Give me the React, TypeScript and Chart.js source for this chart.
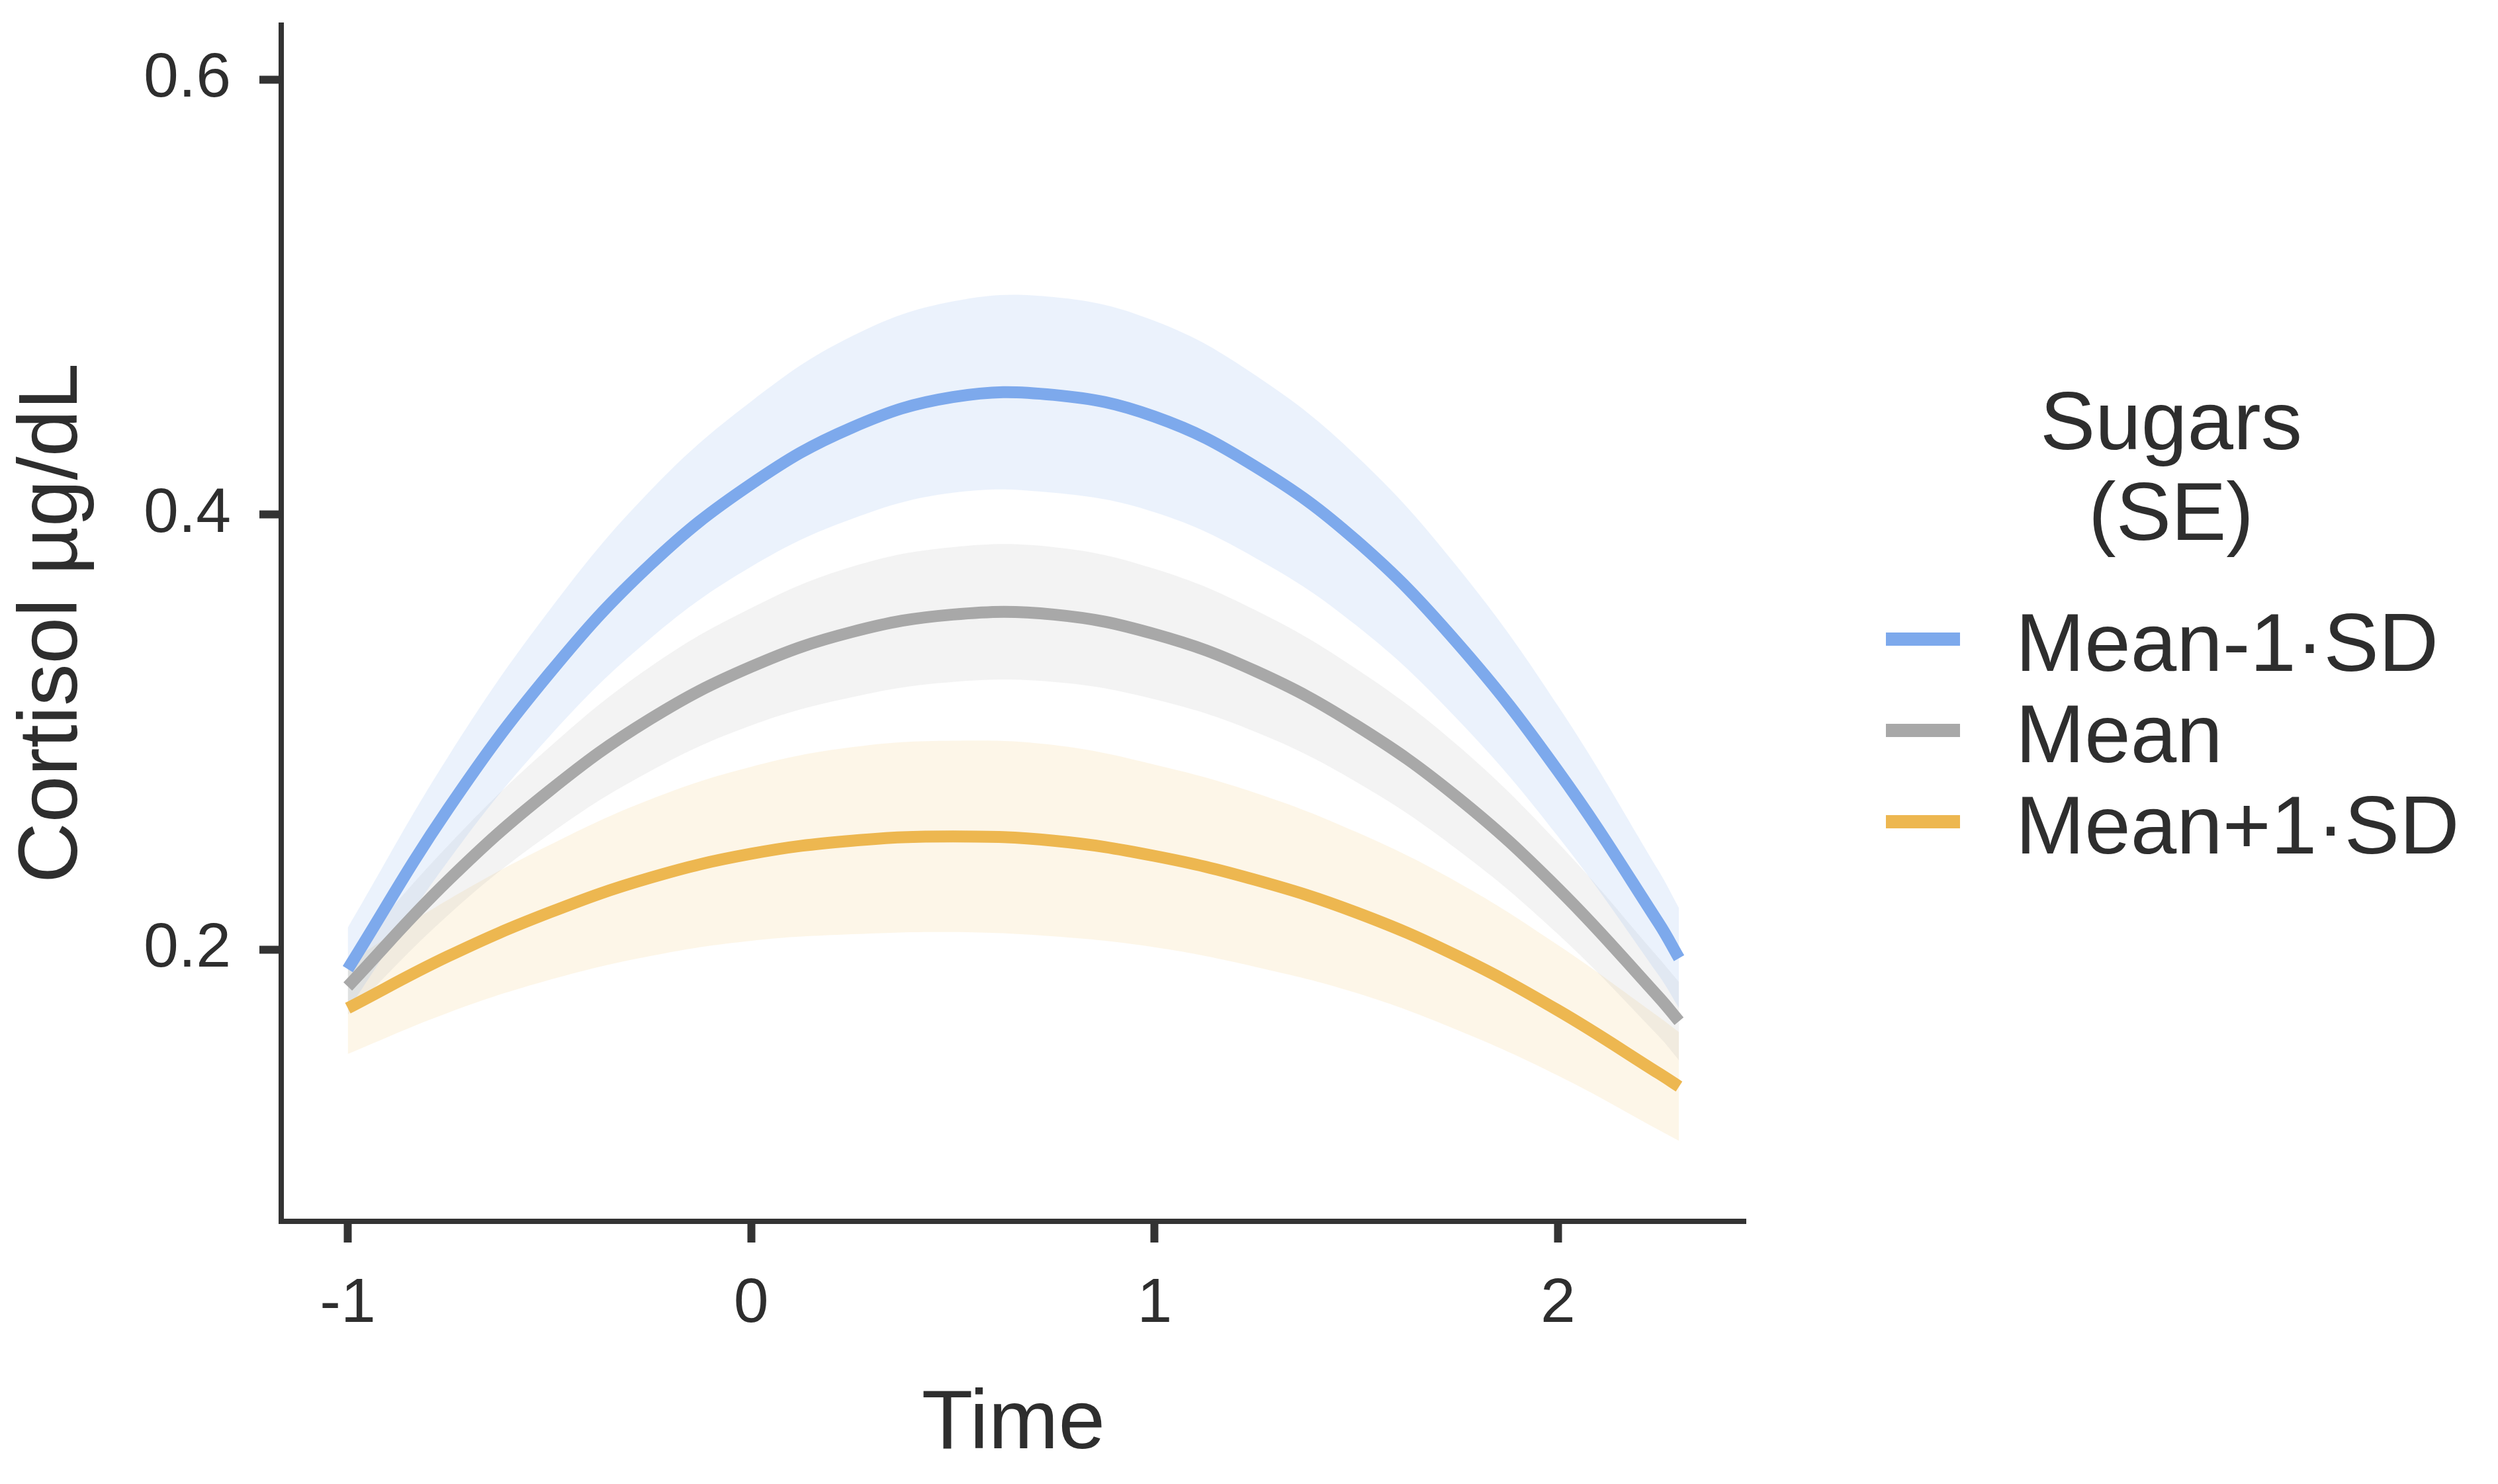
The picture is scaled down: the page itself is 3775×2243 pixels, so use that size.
import React, { useEffect, useRef } from "react";
import { Chart, registerables } from "chart.js";

Chart.register(...registerables);

// ---------- data ----------
const TIME = [-1, -0.75, -0.5, -0.25, 0, 0.25, 0.5, 0.75, 1, 1.25, 1.5, 1.75, 2, 2.25, 2.3];

const MINUS_SD_FIT = [0.191, 0.265, 0.327, 0.377, 0.414, 0.44, 0.454, 0.455, 0.445, 0.422, 0.388, 0.341, 0.282, 0.212, 0.196];
const MINUS_SD_LOW = [0.172, 0.241, 0.298, 0.343, 0.376, 0.398, 0.41, 0.41, 0.401, 0.38, 0.349, 0.306, 0.252, 0.188, 0.173];
const MINUS_SD_HIGH = [0.21, 0.289, 0.356, 0.411, 0.452, 0.482, 0.498, 0.5, 0.489, 0.464, 0.427, 0.376, 0.312, 0.236, 0.219];

const MEAN_FIT = [0.183, 0.232, 0.273, 0.306, 0.33, 0.346, 0.354, 0.354, 0.345, 0.328, 0.303, 0.27, 0.228, 0.178, 0.167];
const MEAN_LOW = [0.17, 0.216, 0.253, 0.282, 0.303, 0.316, 0.323, 0.323, 0.315, 0.3, 0.277, 0.246, 0.207, 0.16, 0.149];
const MEAN_HIGH = [0.196, 0.248, 0.293, 0.33, 0.357, 0.376, 0.385, 0.385, 0.375, 0.356, 0.329, 0.294, 0.249, 0.196, 0.185];

const PLUS_SD_FIT = [0.173, 0.197, 0.217, 0.233, 0.244, 0.25, 0.252, 0.25, 0.243, 0.232, 0.217, 0.197, 0.172, 0.143, 0.137];
const PLUS_SD_LOW = [0.152, 0.171, 0.186, 0.197, 0.204, 0.207, 0.208, 0.206, 0.201, 0.192, 0.18, 0.163, 0.142, 0.117, 0.112];
const PLUS_SD_HIGH = [0.194, 0.223, 0.248, 0.269, 0.284, 0.293, 0.296, 0.294, 0.285, 0.272, 0.254, 0.231, 0.202, 0.169, 0.162];

const SERIES_LABELS = ["Mean-1\u00B7SD", "Mean", "Mean+1\u00B7SD"];
const LEGEND_TITLE = ["Sugars", "(SE)"];
const X_TICKS = [-1, 0, 1, 2];
const Y_TICKS = [0.2, 0.4, 0.6];
const X_TITLE = "Time";
const Y_TITLE = "Cortisol \u00B5g/dL";

// ---------- styles ----------
const W = 3775;
const H = 2243;
const FONT = "'Liberation Sans', Arial, Helvetica, sans-serif";
const TEXT = "#2e2e2e";
const AXIS = "#333333";
const LINE_COLORS = ["#7DA9EC", "#A8A8A8", "#EDB750"];
const BAND_COLORS = [
  "rgba(128,174,238,0.16)",
  "rgba(168,168,168,0.14)",
  "rgba(237,183,80,0.13)",
];

const pts = (arr: number[]) => TIME.map((x, i) => ({ x, y: arr[i] }));

const legendPlugin = {
  id: "sugarLegend",
  afterDraw(chart: any) {
    const ctx = chart.ctx as CanvasRenderingContext2D;
    ctx.save();
    ctx.fillStyle = TEXT;
    ctx.font = `125px ${FONT}`;
    ctx.textAlign = "center";
    ctx.textBaseline = "alphabetic";
    LEGEND_TITLE.forEach((t, i) => ctx.fillText(t, 3281, 679 + i * 137));
    ctx.textAlign = "left";
    SERIES_LABELS.forEach((t, i) => {
      const base = 1014 + i * 138;
      ctx.strokeStyle = LINE_COLORS[i];
      ctx.lineWidth = 20;
      ctx.lineCap = "butt";
      ctx.beginPath();
      ctx.moveTo(2850, base - 48);
      ctx.lineTo(2962, base - 48);
      ctx.stroke();
      ctx.fillStyle = TEXT;
      ctx.fillText(t, 3046, base);
    });
    ctx.restore();
  },
};

export default function App() {
  const ref = useRef<HTMLCanvasElement | null>(null);

  useEffect(() => {
    if (!ref.current) return;
    const fits = [MINUS_SD_FIT, MEAN_FIT, PLUS_SD_FIT];
    const lows = [MINUS_SD_LOW, MEAN_LOW, PLUS_SD_LOW];
    const highs = [MINUS_SD_HIGH, MEAN_HIGH, PLUS_SD_HIGH];

    const datasets: any[] = [];
    // ribbons: indices 0..5
    for (let s = 0; s < 3; s++) {
      datasets.push({
        label: SERIES_LABELS[s] + " low",
        data: pts(lows[s]),
        borderWidth: 0,
        borderColor: "rgba(0,0,0,0)",
        pointRadius: 0,
        fill: false,
        tension: 0.4,
        order: 5,
      });
      datasets.push({
        label: SERIES_LABELS[s] + " high",
        data: pts(highs[s]),
        borderWidth: 0,
        borderColor: "rgba(0,0,0,0)",
        backgroundColor: BAND_COLORS[s],
        pointRadius: 0,
        fill: s * 2,
        tension: 0.4,
        order: 5,
      });
    }
    // lines
    for (let s = 0; s < 3; s++) {
      datasets.push({
        label: SERIES_LABELS[s],
        data: pts(fits[s]),
        borderColor: LINE_COLORS[s],
        borderWidth: 18,
        borderCapStyle: "butt",
        pointRadius: 0,
        fill: false,
        tension: 0.4,
        order: 0,
      });
    }

    const zeroPad = (a: any) => {
      a.paddingTop = 0;
      a.paddingBottom = 0;
      a.paddingLeft = 0;
      a.paddingRight = 0;
    };

    const chart = new Chart(ref.current, {
      type: "line",
      data: { datasets },
      options: {
        animation: false,
        responsive: false,
        maintainAspectRatio: false,
        devicePixelRatio: 1,
        layout: { padding: { left: 0, top: 38, right: 1137, bottom: 0 } },
        plugins: {
          legend: { display: false },
          tooltip: { enabled: false },
        },
        scales: {
          x: {
            type: "linear",
            min: -1.165,
            max: 2.465,
            afterBuildTicks: (a: any) => {
              a.ticks = X_TICKS.map((v) => ({ value: v }));
            },
            afterFit: (a: any) => {
              a.height = 397;
              zeroPad(a);
            },
            ticks: {
              callback: (v: any) => String(v),
              font: { size: 95, family: FONT },
              color: TEXT,
              padding: 37,
              maxRotation: 0,
              autoSkip: false,
            },
            grid: {
              drawOnChartArea: false,
              drawTicks: true,
              tickLength: 32,
              tickWidth: 12,
              tickColor: AXIS,
            },
            border: { display: true, color: AXIS, width: 8 },
            title: {
              display: true,
              text: X_TITLE,
              color: TEXT,
              font: { size: 127, family: FONT, lineHeight: 1 },
              padding: { top: 0, bottom: 26 },
            },
          },
          y: {
            type: "linear",
            min: 0.075,
            max: 0.625,
            afterBuildTicks: (a: any) => {
              a.ticks = Y_TICKS.map((v) => ({ value: v }));
            },
            afterFit: (a: any) => {
              a.width = 425;
              zeroPad(a);
            },
            ticks: {
              callback: (v: any) => Number(v).toFixed(1),
              font: { size: 95, family: FONT },
              color: TEXT,
              padding: 43,
              autoSkip: false,
            },
            grid: {
              drawOnChartArea: false,
              drawTicks: true,
              tickLength: 33,
              tickWidth: 12,
              tickColor: AXIS,
            },
            border: { display: true, color: AXIS, width: 8 },
            title: {
              display: true,
              text: Y_TITLE,
              color: TEXT,
              font: { size: 127, family: FONT, lineHeight: 1 },
              padding: { top: 17, bottom: 0 },
            },
          },
        },
      },
      plugins: [legendPlugin],
    } as any);

    return () => chart.destroy();
  }, []);

  return (
    <div
      style={{
        position: "fixed",
        left: 0,
        top: 0,
        width: W,
        height: H,
        background: "#ffffff",
      }}
    >
      <canvas ref={ref} width={W} height={H} style={{ display: "block", width: W, height: H }} />
    </div>
  );
}
